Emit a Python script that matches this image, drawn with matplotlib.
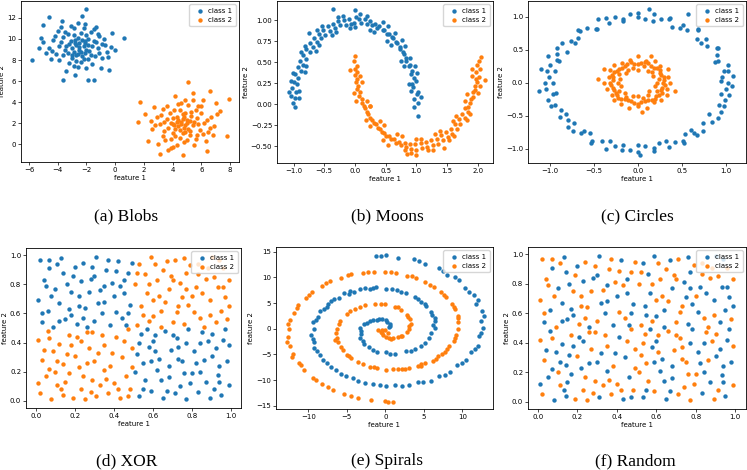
import matplotlib.pyplot as plt
import numpy as np

# --- data (x, y) ---
blobs_c1 = [(-2.5,9.2),(-2.1,9.6),(-2.9,8.8),(-3.2,9.5),(-1.8,8.9),(-2.6,10.1),(-2.3,8.4),(-3.5,9.0),(-1.5,9.8),(-2.8,9.9),
            (-2.0,10.4),(-3.0,8.2),(-1.2,9.1),(-3.8,9.7),(-2.4,7.8),(-1.7,10.7),(-3.3,10.5),(-2.7,8.5),(-1.9,8.1),(-4.1,8.6),
            (-0.9,9.5),(-3.6,10.2),(-2.2,11.0),(-1.4,8.4),(-4.3,9.9),(-2.9,7.4),(-0.6,8.8),(-3.1,11.2),(-1.1,10.3),(-4.6,9.1),
            (-2.0,7.2),(-3.9,8.0),(-0.8,10.0),(-2.6,11.5),(-1.6,7.6),(-4.0,10.8),(-0.3,9.2),(-3.4,7.0),(-1.3,11.1),(-5.0,9.7),
            (-2.3,12.2),(-0.5,8.3),(-4.5,8.1),(-1.0,7.2),(-3.7,11.7),(-5.2,10.1),(-0.2,10.6),(-2.8,6.6),(-4.8,8.7),(0.0,9.0),
            (-5.8,8.0),(0.6,10.1),(-2.0,12.8),(-4.6,12.1),(-5.0,11.3),(-3.6,6.1),(-1.5,6.1),(-1.9,6.1),(-0.4,7.1),(-5.3,9.1),
            (-2.5,9.0),(-2.2,9.3),(-2.7,9.4),(-3.0,9.1),(-2.4,8.8),(-1.9,9.4),(-3.3,8.7),(-2.1,8.7),(-2.8,9.6),(-2.3,9.9),
            (-2.0,9.0),(-2.6,8.6),(-3.1,9.8),(-1.6,9.3),(-2.9,10.4),(-2.2,8.1),(-3.6,8.5),(-1.3,9.7),(-2.4,10.6),(-3.4,9.3),
            (-1.9,10.0),(-2.7,7.9),(-1.1,8.7),(-3.9,9.3),(-2.1,11.4),(-3.2,7.7),(-0.7,9.4),(-4.2,10.3),(-1.5,10.9),(-2.9,11.0),
            (-1.7,8.5),(-2.5,9.6),(-3.0,8.5),(-2.1,9.8),(-3.5,10.7),(-0.9,8.2),(-4.4,8.9),(-1.2,10.5),(-2.6,7.3),(-3.8,11.1)]
blobs_c2 = [(4.6,1.9),(5.0,2.3),(4.2,1.5),(4.9,1.2),(4.3,2.6),(5.4,1.8),(3.9,2.0),(4.7,2.9),(5.2,0.9),(4.0,1.1),
            (5.7,2.5),(3.6,2.4),(4.5,0.6),(5.9,1.4),(4.1,3.3),(5.3,3.1),(3.4,1.3),(6.2,2.0),(4.8,0.2),(3.8,3.0),
            (5.6,0.5),(3.1,1.9),(6.0,3.0),(4.4,3.8),(2.9,2.6),(6.5,1.2),(3.5,0.4),(5.1,3.7),(6.7,2.6),(2.6,1.5),
            (4.0,-0.2),(5.8,3.6),(3.3,3.4),(6.9,1.7),(4.9,4.2),(2.5,2.2),(6.3,0.3),(3.7,-0.5),(7.1,2.9),(5.5,-0.1),
            (5.1,5.9),(7.9,4.3),(6.6,5.1),(1.7,4.0),(1.6,2.1),(4.7,-1.0),(3.1,-0.9),(7.8,0.8),(2.3,0.3),(7.3,3.2),
            (4.6,2.1),(4.4,1.7),(4.8,1.6),(5.0,2.0),(4.3,2.1),(4.7,2.4),(4.9,1.8),(4.5,1.4),(5.2,2.2),(4.1,1.8),
            (2.7,3.5),(6.1,4.2),(3.0,0.0),(6.8,0.9),(4.2,4.6),(5.4,4.9),(2.1,2.9),(7.0,3.9),(3.9,-0.3),(6.4,-0.6),
            (4.4,2.3),(5.1,1.5),(4.0,2.5),(5.5,2.1),(4.7,1.1),(3.7,1.6),(5.3,2.7),(4.2,0.8),(5.8,1.9),(4.5,3.3),
            (3.4,2.1),(6.1,1.0),(4.9,3.0),(3.9,0.5),(5.6,3.3),(3.2,2.8),(6.4,2.3),(4.3,-0.1),(5.0,0.4),(3.6,3.6),
            (4.8,2.6),(5.2,1.3),(4.0,1.9),(5.7,0.9),(4.6,3.9),(3.3,0.8),(6.6,1.6),(5.4,4.2),(2.8,1.8),(6.0,3.6)]

moons_c1 = [(1.03,0.02),(0.96,-0.03),(1.01,0.12),(0.97,0.06),(0.95,0.20),(1.02,0.15),(0.99,0.28),(0.93,0.24),
            (0.91,0.36),(0.97,0.31),(0.88,0.45),(0.93,0.40),(0.84,0.52),(0.89,0.47),(0.80,0.60),(0.84,0.55),
            (0.74,0.66),(0.79,0.62),(0.69,0.73),(0.73,0.68),(0.62,0.79),(0.67,0.74),(0.55,0.84),(0.60,0.80),
            (0.48,0.89),(0.52,0.84),(0.40,0.93),(0.45,0.88),(0.33,0.96),(0.36,0.91),(0.24,0.99),(0.28,0.94),
            (0.16,1.01),(0.19,0.96),(0.07,1.02),(0.10,0.97),(0.01,1.04),(-0.02,0.97),(-0.10,1.01),(-0.07,0.96),
            (-0.18,1.00),(-0.15,0.95),(-0.27,0.99),(-0.24,0.94),(-0.35,0.96),(-0.32,0.91),(-0.44,0.93),(-0.40,0.87),
            (-0.52,0.89),(-0.48,0.83),(-0.59,0.84),(-0.55,0.79),(-0.67,0.79),(-0.62,0.74),(-0.73,0.73),(-0.69,0.68),
            (-0.80,0.66),(-0.74,0.62),(-0.84,0.59),(-0.80,0.54),(-0.89,0.52),(-0.84,0.47),(-0.93,0.44),(-0.88,0.40),
            (-0.97,0.36),(-0.92,0.31),(-0.99,0.27),(-0.94,0.24),(-1.02,0.19),(-0.96,0.15),(-1.04,0.10),(-0.97,0.07),
            (-1.01,0.01),(-0.98,-0.03),(-0.35,1.13),(0.0,1.12),(1.03,-0.14),(0.65,0.85),(-0.75,0.85),(0.9,0.55),(-1.08,0.15),
            (1.08,0.09),(0.88,0.24),(0.98,0.46),(0.75,0.52),(0.76,0.76),(0.52,0.75),(0.46,0.98),(0.24,0.88),(0.09,1.08),
            (-0.08,0.91),(-0.28,1.04),(-0.38,0.82),(-0.62,0.88),(-0.64,0.64),(-0.88,0.62),(-0.82,0.38),(-1.04,0.28),(-0.91,0.08),
            (0.91,0.16),(1.01,0.37),(0.80,0.46),(0.82,0.69),(0.59,0.70),(0.54,0.93),(0.31,0.86),(0.19,1.05),(0.00,0.92),
            (-0.19,1.05),(-0.31,0.86),(-0.54,0.93),(-0.59,0.70),(-0.82,0.69),(-0.80,0.46),(-1.01,0.37),(-0.91,0.16)]
moons_c2 = [(-0.02,0.52),(0.03,0.46),(0.00,0.42),(0.04,0.39),(0.03,0.30),(0.00,0.35),(0.05,0.22),(0.02,0.27),
            (0.08,0.14),(0.04,0.18),(0.11,0.06),(0.07,0.10),(0.15,-0.02),(0.11,0.02),(0.20,-0.09),(0.16,-0.05),
            (0.25,-0.16),(0.21,-0.12),(0.31,-0.22),(0.27,-0.19),(0.37,-0.28),(0.34,-0.24),(0.44,-0.33),(0.41,-0.29),
            (0.51,-0.38),(0.48,-0.34),(0.59,-0.42),(0.56,-0.38),(0.67,-0.46),(0.64,-0.42),(0.75,-0.48),(0.72,-0.45),
            (0.84,-0.51),(0.81,-0.46),(0.92,-0.53),(0.89,-0.47),(1.00,-0.54),(0.98,-0.47),(1.09,-0.52),(1.07,-0.46),
            (1.18,-0.51),(1.16,-0.45),(1.27,-0.49),(1.24,-0.43),(1.35,-0.47),(1.33,-0.41),(1.43,-0.43),(1.41,-0.37),
            (1.51,-0.39),(1.49,-0.33),(1.58,-0.35),(1.56,-0.29),(1.66,-0.29),(1.63,-0.23),(1.72,-0.23),(1.69,-0.18),
            (1.79,-0.16),(1.75,-0.12),(1.84,-0.09),(1.80,-0.05),(1.88,0.01),(1.85,-0.03),(1.92,0.09),(1.89,0.06),
            (1.96,0.17),(1.92,0.14),(1.99,0.26),(1.95,0.22),(2.02,0.33),(1.97,0.30),(2.04,0.42),(1.98,0.39),
            (2.02,0.52),(1.99,0.47),(1.0,-0.60),(0.85,-0.59),(0.0,0.57),(2.12,0.29),(2.05,0.56),(0.25,-0.02),(1.45,-0.52),
            (-0.08,0.41),(0.12,0.26),(0.02,0.04),(0.25,-0.02),(0.24,-0.26),(0.48,-0.25),(0.54,-0.48),(0.76,-0.38),(0.91,-0.58),
            (1.08,-0.41),(1.28,-0.54),(1.38,-0.32),(1.62,-0.38),(1.64,-0.14),(1.88,-0.12),(1.82,0.12),(2.04,0.22),(1.91,0.42),
            (0.09,0.34),(-0.01,0.13),(0.20,0.04),(0.18,-0.19),(0.41,-0.20),(0.46,-0.43),(0.69,-0.36),(0.81,-0.55),(1.00,-0.42),
            (1.19,-0.55),(1.31,-0.36),(1.54,-0.43),(1.59,-0.20),(1.82,-0.19),(1.80,0.04),(2.01,0.13),(1.91,0.34)]

circles_c1 = [(1.03,0.00),(0.96,0.08),(0.98,0.17),(1.02,0.27),(0.88,0.32),(0.90,0.42),(0.90,0.52),(0.79,0.56),(0.78,0.66),
              (0.67,0.67),(0.68,0.80),(0.56,0.80),(0.51,0.87),(0.39,0.84),(0.36,0.98),(0.26,0.96),(0.18,1.04),(0.08,0.96),
              (0.00,1.00),(-0.09,1.05),(-0.17,0.94),(-0.26,0.99),(-0.33,0.91),(-0.45,0.96),(-0.47,0.81),(-0.58,0.83),(-0.66,0.79),
              (-0.68,0.68),(-0.76,0.64),(-0.86,0.60),(-0.81,0.47),(-0.92,0.43),(-0.92,0.34),(-1.00,0.27),(-0.94,0.17),(-1.01,0.09),
              (-0.97,0.00),(-1.04,-0.09),(-0.93,-0.16),(-1.02,-0.27),(-0.94,-0.34),(-0.87,-0.41),(-0.89,-0.52),(-0.80,-0.56),(-0.73,-0.61),
              (-0.74,-0.74),(-0.65,-0.77),(-0.54,-0.77),(-0.52,-0.89),(-0.41,-0.88),(-0.36,-1.00),(-0.26,-0.96),(-0.17,-0.94),(-0.09,-1.02),
              (0.00,-1.05),(0.08,-0.96),(0.18,-0.99),(0.24,-0.91),(0.35,-0.97),(0.42,-0.90),(0.53,-0.92),(0.54,-0.78),(0.64,-0.77),
              (0.74,-0.74),(0.74,-0.62),(0.84,-0.59),(0.81,-0.47),(0.95,-0.44),(0.92,-0.34),(0.99,-0.27),(0.95,-0.17),(1.00,-0.09),
              (-1.12,-0.12),(-1.10,0.20),(-1.02,0.40),(0.13,1.12),(0.57,1.05),(0.02,-1.10),(1.08,0.10),(1.07,-0.05),
              (0.95,0.02),(1.03,0.18),(0.91,0.33),(0.91,0.53),(0.72,0.60),(0.68,0.81),(0.48,0.83),(0.35,0.97),(0.17,0.94),
              (0.00,1.06),(-0.17,0.96),(-0.36,0.98),(-0.48,0.82),(-0.68,0.80),(-0.72,0.60),(-0.92,0.53),(-0.90,0.33),(-1.03,0.18),
              (-1.06,0.00),(-0.97,-0.17),(-0.99,-0.36),(-0.82,-0.48),(-0.80,-0.67),(-0.61,-0.73),(-0.53,-0.91),(-0.32,-0.88),(-0.18,-1.03),
              (0.00,-0.95),(0.18,-1.04),(0.32,-0.89),(0.51,-0.88),(0.67,-0.80),(0.60,-0.72),(0.91,-0.53),(0.98,-0.36),(1.04,-0.18)]
circles_c2 = [(0.37,0.00),(0.22,0.00),(0.30,0.04),(0.34,0.09),(0.24,0.06),(0.26,0.11),(0.34,0.20),(0.17,0.10),(0.25,0.19),
              (0.25,0.25),(0.16,0.16),(0.18,0.23),(0.19,0.33),(0.11,0.18),(0.12,0.30),(0.09,0.33),(0.07,0.25),(0.04,0.30),
              (0.00,0.40),(0.00,0.19),(-0.04,0.28),(-0.09,0.35),(-0.06,0.23),(-0.12,0.29),(-0.18,0.30),(-0.11,0.19),(-0.18,0.23),
              (-0.27,0.27),(-0.14,0.14),(-0.24,0.18),(-0.32,0.19),(-0.22,0.13),(-0.30,0.12),(-0.33,0.09),(-0.20,0.05),(-0.28,0.04),
              (-0.39,0.00),(-0.23,0.00),(-0.31,-0.04),(-0.35,-0.09),(-0.19,-0.05),(-0.27,-0.11),(-0.30,-0.18),(-0.21,-0.12),(-0.24,-0.18),
              (-0.27,-0.27),(-0.15,-0.15),(-0.19,-0.25),(-0.19,-0.32),(-0.13,-0.22),(-0.11,-0.26),(-0.10,-0.39),(-0.06,-0.21),(-0.04,-0.31),
              (0.00,-0.36),(0.00,-0.20),(0.04,-0.30),(0.10,-0.38),(0.06,-0.23),(0.11,-0.27),(0.18,-0.30),(0.11,-0.19),(0.19,-0.25),
              (0.26,-0.26),(0.13,-0.13),(0.24,-0.18),(0.33,-0.19),(0.22,-0.13),(0.26,-0.11),(0.33,-0.09),(0.20,-0.05),(0.31,-0.04),
              (-0.45,0.05),(0.05,-0.45),(0.42,-0.12),(0.15,0.40),(-0.38,0.20),
              (0.29,0.00),(0.30,0.08),(0.25,0.15),(0.22,0.22),(0.15,0.25),(0.08,0.31),(0.00,0.29),(-0.08,0.31),(-0.15,0.25),
              (-0.21,0.21),(-0.27,0.16),(-0.28,0.08),(-0.32,0.00),(-0.28,-0.08),(-0.25,-0.15),(-0.23,-0.23),(-0.15,-0.25),(-0.08,-0.28),
              (0.00,-0.32),(0.08,-0.28),(0.16,-0.27),(0.21,-0.21),(0.27,-0.16),(0.28,-0.08)]

# XOR: four quadrants, local positions inside each 0.5 x 0.5 square
xor_tl = [(0.02,0.47),(0.07,0.41),(0.13,0.48),(0.19,0.36),(0.24,0.45),(0.31,0.49),(0.36,0.40),(0.42,0.46),(0.47,0.38),(0.04,0.33),
          (0.10,0.27),(0.16,0.30),(0.22,0.22),(0.28,0.34),(0.33,0.26),(0.39,0.31),(0.45,0.24),(0.01,0.19),(0.06,0.12),(0.12,0.17),
          (0.18,0.09),(0.25,0.14),(0.30,0.05),(0.35,0.18),(0.41,0.11),(0.48,0.16),(0.03,0.04),(0.09,0.01),(0.15,0.06),(0.21,0.03),
          (0.27,0.25),(0.38,0.02),(0.44,0.07),(0.08,0.22),(0.20,0.42),(0.34,0.10),(0.49,0.45),(0.14,0.38),(0.43,0.29),(0.26,0.01),
          (0.05,0.29),(0.11,0.44),(0.17,0.13),(0.23,0.32),(0.29,0.42),(0.32,0.17),(0.37,0.47),(0.40,0.22),(0.46,0.02),(0.03,0.10),
          (0.12,0.05),(0.18,0.25),(0.24,0.07),(0.30,0.36),(0.35,0.29),(0.41,0.39),(0.47,0.10),(0.07,0.47),(0.22,0.15),(0.45,0.33)]
xor_tr = [(0.03,0.44),(0.09,0.49),(0.15,0.40),(0.21,0.47),(0.27,0.38),(0.33,0.44),(0.40,0.49),(0.46,0.41),(0.01,0.30),(0.07,0.24),
          (0.12,0.33),(0.18,0.27),(0.24,0.31),(0.30,0.22),(0.37,0.34),(0.43,0.28),(0.49,0.33),(0.04,0.15),(0.10,0.08),(0.16,0.18),
          (0.22,0.11),(0.28,0.16),(0.34,0.07),(0.39,0.19),(0.45,0.12),(0.02,0.02),(0.08,0.05),(0.14,0.01),(0.20,0.04),(0.26,0.03),
          (0.32,0.28),(0.36,0.01),(0.42,0.04),(0.48,0.06),(0.11,0.44),(0.25,0.21),(0.47,0.21),(0.19,0.36),(0.06,0.37),(0.38,0.41),
          (0.05,0.09),(0.13,0.22),(0.17,0.46),(0.23,0.15),(0.29,0.43),(0.31,0.11),(0.35,0.24),(0.41,0.35),(0.44,0.47),(0.49,0.15),
          (0.02,0.38),(0.08,0.30),(0.14,0.12),(0.20,0.33),(0.26,0.48),(0.33,0.37),(0.39,0.09),(0.46,0.28),(0.10,0.19),(0.27,0.27)]
xor_bl = [(0.01,0.42),(0.06,0.48),(0.12,0.39),(0.17,0.45),(0.23,0.41),(0.29,0.47),(0.35,0.38),(0.41,0.44),(0.47,0.49),(0.03,0.28),
          (0.09,0.34),(0.14,0.25),(0.20,0.31),(0.26,0.26),(0.32,0.33),(0.38,0.24),(0.44,0.30),(0.49,0.36),(0.05,0.17),(0.11,0.11),
          (0.17,0.19),(0.23,0.08),(0.29,0.14),(0.35,0.21),(0.40,0.12),(0.46,0.17),(0.02,0.05),(0.08,0.01),(0.14,0.04),(0.19,0.02),
          (0.25,0.01),(0.31,0.03),(0.37,0.05),(0.43,0.02),(0.48,0.08),(0.07,0.22),(0.21,0.44),(0.33,0.11),(0.27,0.36),(0.15,0.13),
          (0.04,0.35),(0.10,0.20),(0.16,0.32),(0.22,0.23),(0.28,0.06),(0.34,0.45),(0.39,0.33),(0.45,0.41),(0.49,0.23),(0.01,0.12),
          (0.07,0.43),(0.13,0.08),(0.18,0.38),(0.24,0.17),(0.30,0.27),(0.36,0.15),(0.42,0.08),(0.47,0.03),(0.11,0.27),(0.26,0.47)]
xor_br = [(0.04,0.46),(0.10,0.41),(0.16,0.48),(0.22,0.43),(0.28,0.49),(0.34,0.40),(0.40,0.46),(0.46,0.42),(0.02,0.32),(0.08,0.37),
          (0.13,0.29),(0.19,0.35),(0.25,0.27),(0.31,0.34),(0.36,0.28),(0.42,0.36),(0.48,0.27),(0.01,0.20),(0.06,0.14),(0.12,0.21),
          (0.18,0.16),(0.24,0.10),(0.30,0.19),(0.37,0.13),(0.43,0.18),(0.49,0.11),(0.03,0.03),(0.09,0.07),(0.15,0.02),(0.21,0.05),
          (0.27,0.01),(0.33,0.06),(0.39,0.02),(0.45,0.04),(0.18,0.24),(0.05,0.26),(0.41,0.08),(0.27,0.40),(0.11,0.45),(0.47,0.49),
          (0.03,0.40),(0.09,0.27),(0.14,0.14),(0.20,0.45),(0.26,0.19),(0.32,0.26),(0.35,0.47),(0.40,0.31),(0.44,0.24),(0.49,0.38),
          (0.05,0.08),(0.11,0.34),(0.17,0.07),(0.23,0.37),(0.29,0.12),(0.34,0.20),(0.38,0.41),(0.44,0.13),(0.07,0.49),(0.23,0.29)]
# class of each point in the Random panel (same positions as XOR, order tl, tr, bl, br)
random_label = [1,0,0,1,1,0,1,0,1,1,0,0,1,0,1,1,0,1,0,0,
                0,1,1,0,1,0,0,1,0,1,1,0,1,1,0,0,1,0,1,0,
                1,1,0,0,1,0,1,0,0,1,0,1,1,0,0,1,0,1,1,0,
                0,0,1,1,0,1,0,1,1,0,1,0,0,1,1,0,1,0,0,1,
                1,0,1,0,0,1,1,0,1,0,0,1,0,1,1,0,0,1,0,1,
                0,1,0,1,1,0,0,1,0,0,1,1,0,1,0,1,1,0,1,0,
                1,0,0,1,0,1,1,0,1,1,0,0,1,0,0,1,0,1,0,1,
                0,1,1,0,1,0,1,0,0,1,1,0,1,0,1,0,0,1,1,0,
                0,1,0,0,1,1,0,1,1,0,1,0,0,1,0,1,1,0,0,1,
                1,0,1,1,0,0,1,0,1,0,0,1,1,0,1,0,0,1,1,0,
                0,1,1,0,0,1,0,1,0,1,1,0,1,0,0,1,1,0,1,0,
                1,0,0,1,1,0,1,0,0,1,0,1,0,1,1,0,1,0,0,1]

spiral_c1 = [(0.45,0.30),(0.62,0.50),(0.60,0.88),(0.28,1.35),(0.10,1.62),(-0.40,1.90),(-1.10,1.72),(-1.60,1.78),(-2.35,1.20),
             (-2.70,0.85),(-3.25,0.10),(-3.20,-0.95),(-3.30,-1.75),(-2.70,-2.90),(-2.15,-3.55),(-1.10,-4.45),(0.10,-4.60),
             (1.20,-4.95),(2.70,-4.40),(3.80,-4.00),(5.10,-2.80),(5.70,-1.70),
             (6.40,0.15),(6.25,0.75),(6.45,1.60),(6.05,2.70),(5.95,3.30),(5.35,4.35),(5.10,4.85),(4.25,5.85),(3.80,6.20),
             (2.75,7.05),(2.10,7.20),(0.90,7.80),(0.15,7.70),(-1.15,8.05),(-2.00,7.70),(-3.30,7.75),(-4.05,7.10),(-5.30,6.90),
             (-6.00,6.00),(-7.10,5.45),(-7.60,4.30),(-8.50,3.55),(-8.70,2.25),(-9.35,1.35),(-9.30,-0.10),(-9.60,-1.15),
             (-9.20,-2.65),(-9.20,-3.65),(-8.45,-5.10),(-8.15,-6.00),(-7.05,-7.35),(-6.45,-8.05),(-5.10,-9.25),(-4.20,-9.65),
             (-2.65,-10.50),(-1.55,-10.65),(0.15,-11.15),(1.30,-10.90),(3.05,-11.00),(4.20,-10.40),(5.90,-10.10),(6.95,-9.10),
             (8.45,-8.45),(9.30,-7.10),(10.55,-6.15),(11.10,-4.55),(12.05,-3.30),(12.20,-1.50),(12.70,0.15),(12.45,1.55),
             (12.55,3.45),(11.85,4.85),(11.50,6.65),(10.35,7.90),(9.60,9.55),(8.05,10.55),(6.95,11.90),(5.10,12.55),
             (3.75,13.50),(1.65,13.75),(0.15,14.30),(-0.50,14.10),
             (10.9,7.2),(12.0,5.6),(12.8,2.4),(12.5,-0.8),(11.6,-4.0),(10.0,-6.6),(7.7,-8.9),(4.9,-10.3),(2.2,-11.1),
             (-0.7,-11.0),(-3.5,-10.2),(-5.7,-8.7),(-7.6,-6.6),(-8.9,-4.3),(-9.4,-1.9),(-9.0,1.8),(-8.0,3.9),(-6.6,5.8),
             (-4.6,7.3),(-2.6,7.9),(4.4,13.1),(7.5,11.3),(9.0,10.0),(-1.2,14.2),
             (6.0,-0.9),(6.5,2.1),(4.7,5.3),(1.5,7.5),(-1.6,7.9),(-4.7,6.8),(-7.4,4.9),(-2.9,-2.3),(-1.6,-4.2),(0.6,-4.9),
             (3.3,-4.3),(4.6,-3.4),(-0.8,1.9),(-2.0,1.5),(-3.1,-0.5)]
spiral_c2 = [(-0.40,-0.25),(-0.60,-0.55),(-0.45,-0.90),(-0.35,-1.25),(0.05,-1.60),(0.50,-1.80),(1.00,-1.85),(1.70,-1.60),
             (2.20,-1.35),(2.85,-0.70),(3.10,0.05),(3.35,0.85),(3.15,1.85),(2.85,2.75),(2.05,3.70),(1.20,4.25),(-0.05,4.75),
             (-1.30,4.75),(-2.60,4.60),(-3.95,3.85),(-4.95,2.95),(-5.85,1.50),(0.0,-0.3),(-0.9,-0.2),(0.3,-0.9),
             (-6.30,-0.10),(-6.40,-0.90),(-6.25,-1.75),(-6.20,-2.50),(-5.80,-3.45),(-5.55,-4.15),(-4.95,-5.05),(-4.45,-5.65),
             (-3.60,-6.40),(-2.90,-6.85),(-1.95,-7.40),(-1.05,-7.60),(0.05,-7.95),(1.00,-7.85),(2.15,-7.90),(3.10,-7.55),
             (4.25,-7.30),(5.15,-6.70),(6.15,-6.20),(6.90,-5.30),(7.75,-4.50),(8.30,-3.40),(8.90,-2.40),(9.15,-1.20),
             (9.50,0.05),(9.45,1.30),(9.40,2.45),(9.00,3.80),(8.65,4.90),(7.95,6.20),(7.25,7.15),(6.35,8.15),(5.20,9.10),
             (4.00,9.85),(2.85,10.30),(1.40,10.85),(-0.05,10.95),(-1.50,11.10),(-2.90,10.80),(-4.40,10.60),(-5.70,9.95),
             (-7.15,9.30),(-8.25,8.40),(-9.50,7.20),(-10.35,6.05),(-11.30,4.70),(-11.85,3.15),(-12.40,1.70),(-12.50,0.05),
             (-12.65,-1.60),(-12.35,-3.30),(-12.00,-4.90),(-11.25,-6.60),(-10.55,-8.00),(-9.35,-9.50),(-8.25,-10.65),
             (-6.75,-11.85),(-5.30,-12.65),(-3.55,-13.45),(-1.85,-13.85),(-0.10,-14.10),(0.40,-14.25),
             (-10.9,-7.1),(-12.1,-5.5),(-12.8,-2.5),(-12.6,0.9),(-11.5,4.0),(-9.9,6.6),(-7.7,8.9),(-4.8,10.4),(-2.2,11.0),
             (0.7,11.0),(3.5,10.2),(5.8,8.6),(7.6,6.6),(8.9,4.2),(9.5,2.0),(9.0,-1.8),(8.0,-3.9),(6.6,-5.9),(4.6,-7.3),
             (2.6,-7.9),(-4.4,-13.1),(-7.5,-11.3),(-9.0,-10.0),(1.0,-14.2),
             (-6.0,0.9),(-6.5,-2.1),(-4.7,-5.3),(-1.5,-7.5),(1.6,-7.9),(4.7,-6.8),(7.4,-4.9),(2.9,2.3),(1.6,4.2),(-0.6,4.9),
             (-3.3,4.3),(-4.6,3.4),(0.8,-1.9),(2.0,-1.5),(3.1,0.5)]

captions = ['(a) Blobs', '(b) Moons', '(c) Circles', '(d) XOR', '(e) Spirals', '(f) Random']

# --- build XOR / Random point sets ---
xor_pts = ([(u, v + 0.5) for u, v in xor_tl] + [(u + 0.5, v + 0.5) for u, v in xor_tr]
           + [(u, v) for u, v in xor_bl] + [(u + 0.5, v) for u, v in xor_br])
xor_label = [0] * len(xor_tl) + [1] * len(xor_tr) + [1] * len(xor_bl) + [0] * len(xor_br)
xor_pts = np.array(xor_pts)
xor_label = np.array(xor_label)
random_label = np.array(random_label)

xor_c1 = xor_pts[xor_label == 0]
xor_c2 = xor_pts[xor_label == 1]
rnd_c1 = xor_pts[random_label == 0]
rnd_c2 = xor_pts[random_label == 1]

W, H = 747, 470
fig = plt.figure(figsize=(W / 100, H / 100), dpi=100)


def px_axes(left, top, right, bottom):
    return fig.add_axes([left / W, 1 - bottom / H, (right - left) / W, (bottom - top) / H])


def minus_fmt(fmt):
    return plt.FuncFormatter(lambda v, p: (fmt % v).replace('-', '\u2212'))


panels = [
    (px_axes(21, 1, 239, 162), blobs_c1, blobs_c2, (-6.56, 8.63), (-1.67, 13.6),
     [-6, -4, -2, 0, 2, 4, 6, 8], [0, 2, 4, 6, 8, 10, 12], '%g', '%g'),
    (px_axes(277, 1, 493, 163), moons_c1, moons_c2, (-1.27, 2.25), (-0.70, 1.23),
     [-1.0, -0.5, 0.0, 0.5, 1.0, 1.5, 2.0], [-0.5, -0.25, 0, 0.25, 0.5, 0.75, 1.0], '%.1f', '%.2f'),
    (px_axes(528, 1, 746, 163), circles_c1, circles_c2, (-1.25, 1.23), (-1.22, 1.24),
     [-1.0, -0.5, 0.0, 0.5, 1.0], [-1.0, -0.5, 0.0, 0.5, 1.0], '%.1f', '%.1f'),
    (px_axes(26, 248, 241, 408), xor_c1, xor_c2, (-0.05, 1.05), (-0.05, 1.05),
     [0, 0.2, 0.4, 0.6, 0.8, 1.0], [0, 0.2, 0.4, 0.6, 0.8, 1.0], '%.1f', '%.1f'),
    (px_axes(276, 247, 493, 409), spiral_c1, spiral_c2, (-14.2, 14.0), (-15.6, 15.9),
     [-10, -5, 0, 5, 10], [-15, -10, -5, 0, 5, 10, 15], '%g', '%g'),
    (px_axes(528, 247, 746, 409), rnd_c1, rnd_c2, (-0.05, 1.054), (-0.05, 1.05),
     [0, 0.2, 0.4, 0.6, 0.8, 1.0], [0, 0.2, 0.4, 0.6, 0.8, 1.0], '%.1f', '%.1f'),
]

for ax, c1, c2, xlim, ylim, xt, yt, xfmt, yfmt in panels:
    c1 = np.asarray(c1)
    c2 = np.asarray(c2)
    ax.scatter(c1[:, 0], c1[:, 1], s=10, color='tab:blue', linewidths=0, label='class 1')
    ax.scatter(c2[:, 0], c2[:, 1], s=10, color='tab:orange', linewidths=0, label='class 2')
    ax.set_xlim(xlim)
    ax.set_ylim(ylim)
    ax.set_xticks(xt)
    ax.set_yticks(yt)
    ax.xaxis.set_major_formatter(minus_fmt(xfmt))
    ax.yaxis.set_major_formatter(minus_fmt(yfmt))
    ax.tick_params(labelsize=5, length=2, width=0.5, pad=1.5)
    for sp in ax.spines.values():
        sp.set_linewidth(0.6)
    ax.set_xlabel('feature 1', fontsize=5, labelpad=1.5)
    ax.set_ylabel('feature 2', fontsize=5, labelpad=1.5)
    ax.legend(loc='upper right', fontsize=5, handletextpad=0.2, borderpad=0.5, labelspacing=0.4, framealpha=0.8)

cap_pos = [(126, 216), (387, 216), (637, 216), (127, 461), (387, 461), (635, 461)]
for text, (cx, cy) in zip(captions, cap_pos):
    fig.text(cx / W, 1 - cy / H, text, ha='center', va='center', fontsize=12.5, family='Liberation Serif')

fig.savefig('out.png', dpi=100)
